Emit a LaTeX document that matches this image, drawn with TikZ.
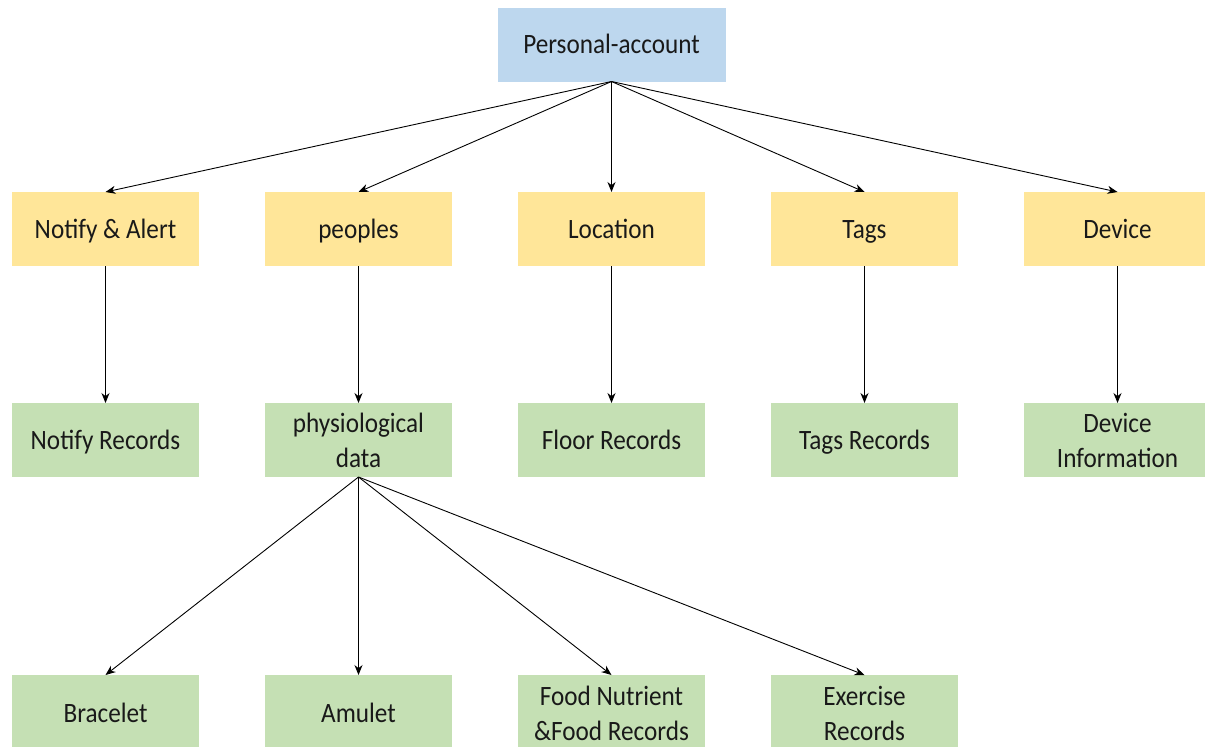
\documentclass[tikz,border=0pt]{standalone}
\usepackage{fontspec}
\setmainfont[FakeStretch=0.9]{Carlito}
\usetikzlibrary{arrows.meta}
\definecolor{bluebox}{HTML}{BDD7EE}
\definecolor{yellowbox}{HTML}{FFE699}
\definecolor{greenbox}{HTML}{C5E0B4}
\begin{document}
\begin{tikzpicture}[x=1pt,y=-1pt,
  box/.style={rectangle, inner sep=0pt, outer sep=0pt, minimum width=187pt, minimum height=74pt, align=center, font=\fontsize{28}{35}\selectfont, text=black!90},
  one/.style={text height=24pt, text depth=6pt},
  topbox/.style={box, one, fill=bluebox, minimum width=228pt},
  ybox/.style={box, one, fill=yellowbox},
  gbox/.style={box, fill=greenbox},
  conn/.style={draw=black, line width=0.9pt, -{Stealth[length=10pt,width=8pt]}}]
\useasboundingbox (0,0) rectangle (1205,747);
\clip (0,0) rectangle (1205,747);
\node[topbox] (top) at (611.5,44.5) {Personal-account};
\node[ybox] (notify) at (105.5,229) {Notify \& Alert};
\node[ybox] (peoples) at (358.5,229) {peoples};
\node[ybox] (location) at (611.5,229) {Location};
\node[ybox] (tags) at (864.5,229) {Tags};
\node[ybox] (device) at (1117.5,229) {Device};
\node[gbox, one] (notifyrec) at (105.5,440) {Notify Records};
\node[gbox] (physio) at (358.5,440) {physiological\\data};
\node[gbox, one] (floor) at (611.5,440) {Floor Records};
\node[gbox, one] (tagsrec) at (864.5,440) {Tags Records};
\node[gbox] (devinfo) at (1117.5,440) {Device\\Information};
\node[gbox, one, minimum height=76pt] (bracelet) at (105.5,713) {Bracelet};
\node[gbox, one, minimum height=76pt] (amulet) at (358.5,713) {Amulet};
\node[gbox, minimum height=76pt] (food) at (611.5,713) {Food Nutrient\\\&Food Records};
\node[gbox, minimum height=76pt] (exercise) at (864.5,713) {Exercise\\Records};
\foreach \n in {notify,peoples,location,tags,device}
  \draw[conn] (top.south) -- (\n.north);
\draw[conn] (notify) -- (notifyrec);
\draw[conn] (peoples) -- (physio);
\draw[conn] (location) -- (floor);
\draw[conn] (tags) -- (tagsrec);
\draw[conn] (device) -- (devinfo);
\foreach \n in {bracelet,amulet,food,exercise}
  \draw[conn] (physio.south) -- (\n.north);
\end{tikzpicture}
\end{document}
